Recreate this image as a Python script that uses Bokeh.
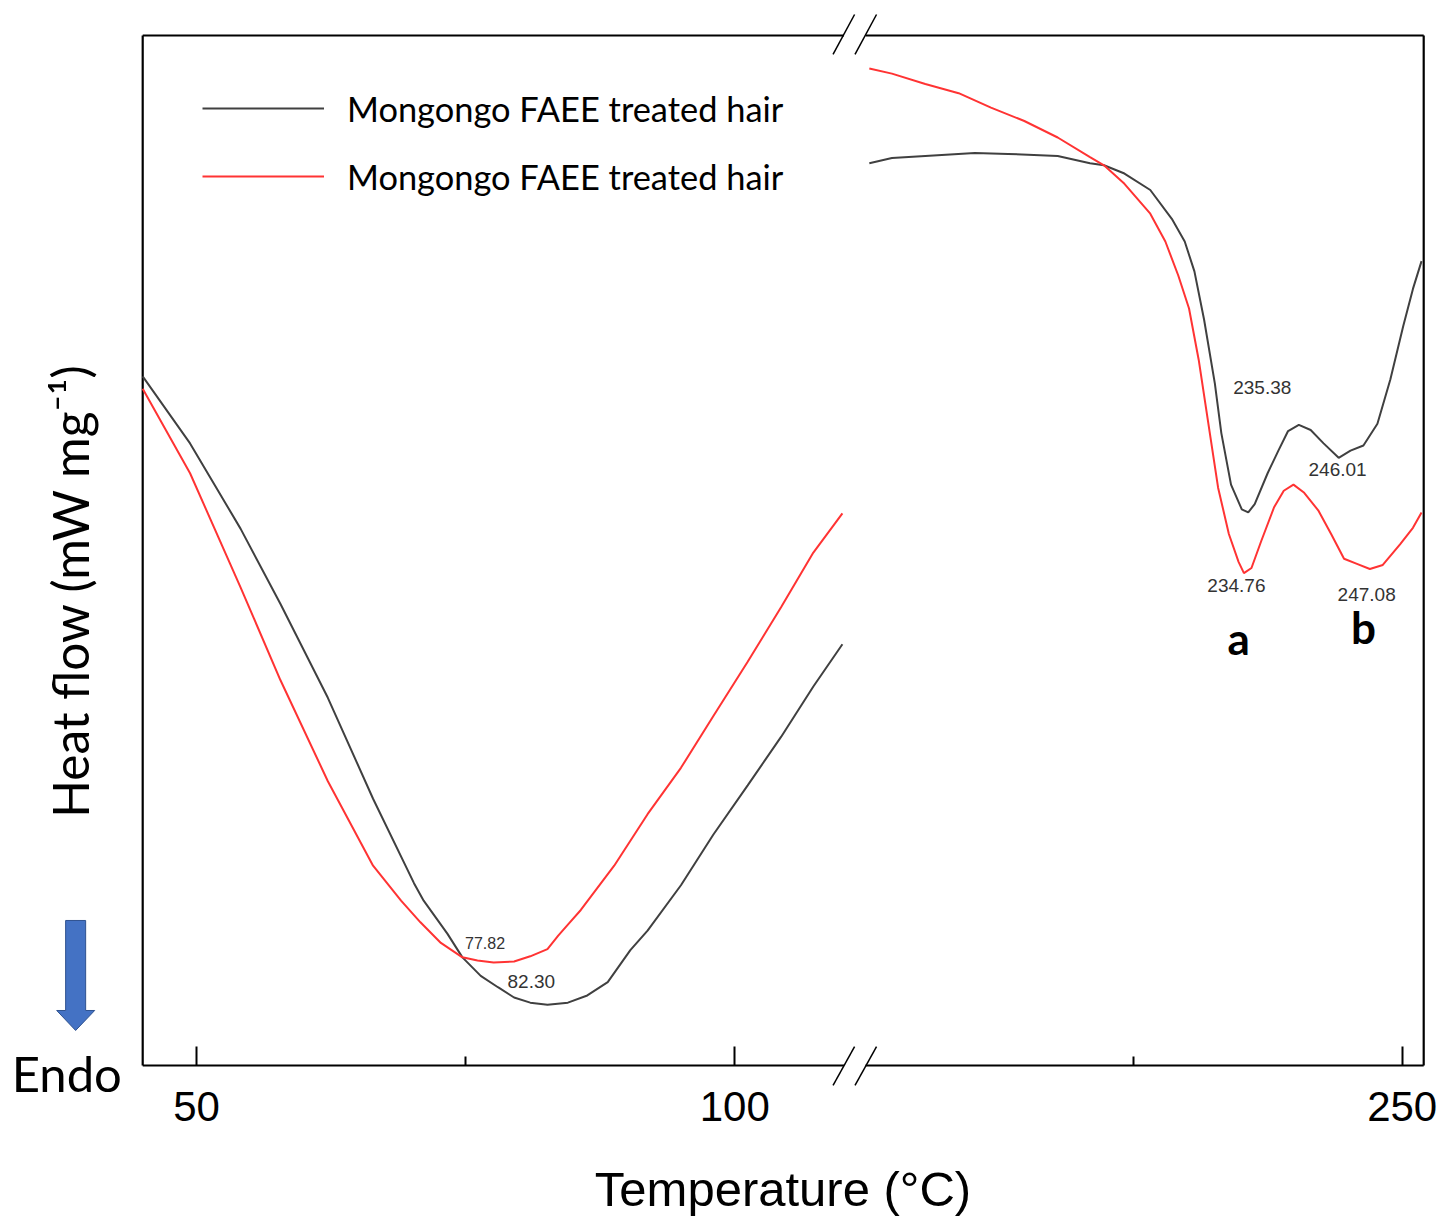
import numpy as np
from bokeh.plotting import figure
from bokeh.models import Range1d, FixedTicker, Label, Legend, LegendItem
from bokeh.core.properties import value
from bokeh.embed import file_html
from bokeh.resources import INLINE

# ---------------- data (temperature in deg C, heat flow in arbitrary units) -------------
black_left_T = [45.0, 49.4, 54.1, 57.8, 62.2, 66.4, 70.2, 71.1, 73.3, 74.7, 76.4, 78.0,
                79.5, 81.0, 82.6, 84.5, 86.3, 88.2, 90.3, 91.9, 95.0, 98.0, 101.2,
                104.3, 107.3, 110.0]
black_left_y = [66.9, 60.4, 52.1, 44.8, 35.7, 25.9, 17.7, 16.0, 12.8, 10.5, 8.7, 7.6,
                6.6, 6.1, 5.9, 6.1, 6.8, 8.1, 11.2, 13.1, 17.5, 22.4, 27.2,
                31.9, 36.8, 40.9]

red_left_T = [45.0, 49.4, 54.1, 57.8, 62.2, 66.4, 69.0, 70.8, 72.7, 74.7, 76.1, 77.6,
              79.5, 81.0, 82.6, 83.6, 84.6, 85.7, 88.8, 91.9, 95.0, 98.0, 101.2,
              104.3, 107.3, 110.0]
red_left_y = [65.7, 57.5, 46.4, 37.4, 27.6, 19.4, 16.0, 13.9, 11.9, 10.5, 10.2, 10.0,
              10.1, 10.6, 11.3, 12.6, 13.8, 15.1, 19.4, 24.4, 28.9, 33.9, 39.2,
              44.5, 49.8, 53.6]

black_right_T = [200.5, 202.6, 205.7, 210.3, 213.4, 218.0, 221.0, 222.3, 224.2, 226.6,
                 228.6, 229.8, 230.7, 231.6, 232.6, 233.2, 234.1, 235.1, 235.7, 236.3,
                 237.5, 238.5, 239.4, 240.4, 241.5, 242.7, 244.1, 245.2, 246.4, 247.7,
                 248.9, 250.1, 251.0, 251.8]
black_right_y = [87.6, 88.1, 88.3, 88.6, 88.5, 88.3, 87.6, 87.4, 86.6, 85.0,
                 82.2, 80.0, 77.1, 72.4, 66.2, 61.4, 56.4, 54.0, 53.7, 54.5,
                 57.5, 59.7, 61.6, 62.2, 61.7, 60.4, 59.0, 59.7, 60.2, 62.3,
                 66.6, 71.8, 75.4, 78.1]

red_right_T = [200.5, 202.6, 205.7, 208.8, 211.8, 214.9, 218.0, 221.0, 222.3, 224.2,
               226.6, 228.0, 229.2, 230.2, 231.1, 232.0, 232.9, 233.9, 234.8, 235.3,
               236.0, 236.9, 238.1, 239.0, 239.9, 240.9, 242.2, 243.4, 244.6, 245.8,
               247.0, 248.2, 249.8, 251.0, 251.8]
red_right_y = [96.8, 96.3, 95.3, 94.4, 93.0, 91.7, 90.1, 88.2, 87.4, 85.6,
               82.7, 80.0, 76.7, 73.5, 68.5, 62.3, 56.1, 51.6, 48.9, 47.8,
               48.3, 50.9, 54.2, 55.8, 56.4, 55.6, 53.9, 51.6, 49.2, 48.7,
               48.2, 48.6, 50.6, 52.2, 53.7]

series_labels = ["Mongongo FAEE treated hair", "Mongongo FAEE treated hair"]
major_ticks_T = [50, 100, 250]
minor_ticks_T = [75, 225]

peak_texts = ["77.82", "82.30", "235.38", "246.01", "234.76", "247.08"]
peak_T = [76.8, 81.1, 237.0, 244.0, 234.6, 246.7]
peak_y = [11.9, 8.2, 65.8, 57.9, 46.6, 45.7]
peak_size = ["16px", "19px", "19px", "19px", "19px", "19px"]

# ---------------- broken axis transform -------------
BREAK_LO = 110.0
BREAK_HI = 200.0
GAP = 2.0


def to_axis(t):
    t = np.asarray(t, dtype=float)
    return np.where(t <= BREAK_LO, t, t - BREAK_HI + BREAK_LO + GAP)


bx = np.concatenate([to_axis(black_left_T), [np.nan], to_axis(black_right_T)])
by = np.concatenate([black_left_y, [np.nan], black_right_y])
rx = np.concatenate([to_axis(red_left_T), [np.nan], to_axis(red_right_T)])
ry = np.concatenate([red_left_y, [np.nan], red_right_y])

X_LO, X_HI = 45.0, 164.0       # frame box in axis units
Y_LO, Y_HI = 0.0, 100.0

p = figure(width=1440, height=1220,
           x_range=Range1d(31.79, 165.56), y_range=Range1d(-15.05, 103.40),
           output_backend="svg", toolbar_location=None,
           min_border_left=0, min_border_right=0, min_border_top=0, min_border_bottom=0)
p.background_fill_color = "white"
p.border_fill_color = "white"
p.grid.visible = False
p.yaxis.visible = False
p.outline_line_color = None

# frame box (with gap for the axis break)
gx0 = float(to_axis(BREAK_LO)) + 0.15
gx1 = gx0 + 2.0
p.segment(x0=[X_LO, X_LO, gx1, X_HI, X_LO, gx1],
          y0=[Y_LO, Y_HI, Y_HI, Y_LO, Y_LO, Y_LO],
          x1=[X_LO, gx0, X_HI, X_HI, gx0, X_HI],
          y1=[Y_HI, Y_HI, Y_HI, Y_HI, Y_LO, Y_LO],
          line_color="black", line_width=2.2)
# break slashes
p.segment(x0=[109.13, 111.17, 109.13, 111.17], y0=[98.16, 98.16, -1.94, -1.94],
          x1=[111.13, 113.17, 111.13, 113.17], y1=[102.04, 102.04, 1.84, 1.84],
          line_color="black", line_width=1.5)

r_black = p.line(bx, by, line_color="#404040", line_width=2)
r_red = p.line(rx, ry, line_color="#FF3333", line_width=2)

ax = p.xaxis[0]
ax.fixed_location = 0
ax.ticker = FixedTicker(ticks=[float(to_axis(t)) for t in major_ticks_T],
                        minor_ticks=[float(to_axis(t)) for t in minor_ticks_T])
ax.major_label_overrides = {float(to_axis(t)): str(t) for t in major_ticks_T}
ax.axis_line_color = None
ax.major_tick_in = 19
ax.major_tick_out = 0
ax.minor_tick_in = 9
ax.minor_tick_out = 0
ax.major_tick_line_width = 2
ax.minor_tick_line_width = 2
ax.major_tick_line_color = "black"
ax.minor_tick_line_color = "black"
ax.major_label_text_font = "Liberation Sans"
ax.major_label_text_font_size = "42px"
ax.major_label_text_color = "black"
ax.major_label_standoff = 27

legend = Legend(items=[LegendItem(label=value(series_labels[0]), renderers=[r_black]),
                       LegendItem(label=value(series_labels[1]), renderers=[r_red])],
                location=(202, 1023), margin=0, padding=3, spacing=26,
                glyph_width=122, glyph_height=42, label_height=42, label_standoff=23,
                label_text_font="Lato", label_text_font_size="34.4px",
                label_text_color="black",
                border_line_color=None, background_fill_alpha=0)
p.add_layout(legend)

# peak annotations
for t, yv, s, fs in zip(peak_T, peak_y, peak_texts, peak_size):
    p.add_layout(Label(x=float(to_axis(t)), y=yv, text=s, text_align="center",
                       text_baseline="middle", text_font="Liberation Sans",
                       text_font_size=fs, text_color="#333333"))

for t, yv, s in [(234.8, 41.5, "a"), (246.4, 42.6, "b")]:
    p.add_layout(Label(x=float(to_axis(t)), y=yv, text=s, text_align="center",
                       text_baseline="middle", text_font="Lato", text_font_style="bold",
                       text_font_size="44px", text_color="black"))

# axis titles
p.add_layout(Label(x=104.48, y=-12.0, text="Temperature (°C)", text_align="center",
                   text_baseline="middle", text_font="Liberation Sans",
                   text_font_size="49px", text_color="black"))
p.add_layout(Label(x=38.2, y=46.1, text="Heat flow (mW mg⁻¹)", angle=90,
                   angle_units="deg", text_align="center", text_baseline="middle",
                   text_font="Lato", text_font_size="49.5px", text_color="black"))

# Endo arrow and text
p.patch(x=[37.84, 39.70, 39.70, 40.54, 38.77, 37.01, 37.84],
        y=[14.08, 14.08, 5.34, 5.34, 3.40, 5.34, 5.34],
        fill_color="#4472C4", fill_alpha=1.0, line_color="#2F528F", line_width=1)
p.add_layout(Label(x=37.95, y=-0.7, text="Endo", text_align="center",
                   text_baseline="middle", text_font="Lato", text_font_size="49px",
                   text_color="black"))

open("out.html", "w").write(file_html(p, INLINE))
